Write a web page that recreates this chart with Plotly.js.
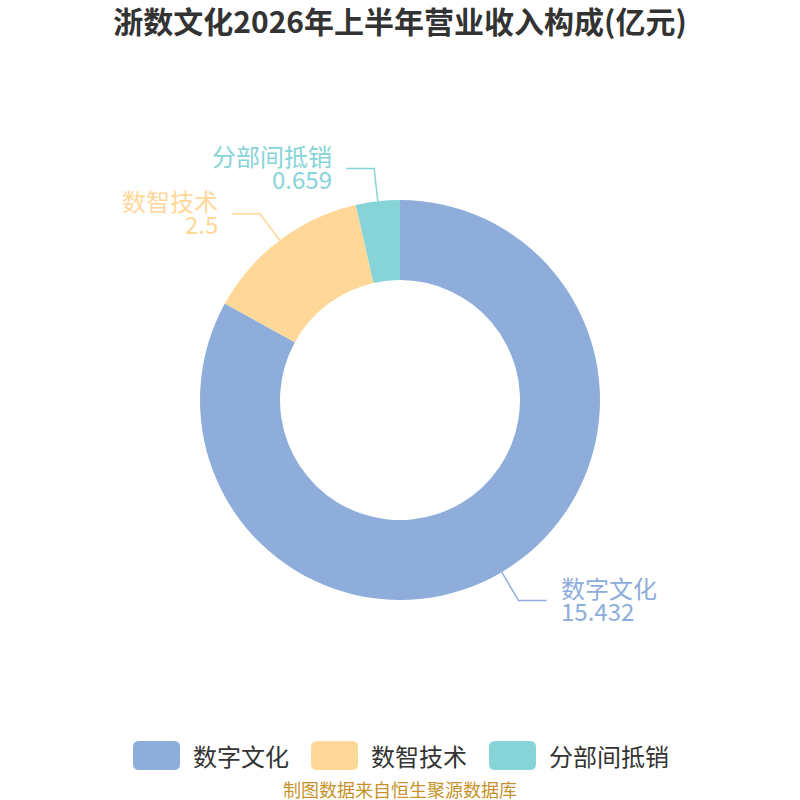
<html>
<head>
<meta charset="utf-8" />
<title>浙数文化2026年上半年营业收入构成</title>
<script src="https://cdn.plot.ly/plotly-3.0.1.min.js"></script>
</head>
<body style="margin:0">
<div id="myDiv" style="width:800px;height:800px"></div>
<script>
// 数据
var labels = ['数字文化', '数智技术', '分部间抵销'];
var values = [15.432, 2.5, 0.659];
var colors = ['#8eaddb', '#ffd899', '#86d4d8'];

var titleText = '浙数文化2026年上半年营业收入构成(亿元)';
var sourceText = '制图数据来自恒生聚源数据库';
var FONT = '"Noto Sans CJK SC", "Noto Sans", sans-serif';

// plot area 400x400 centred at (400,400): paper coords <-> pixels
var M = 200, R = 200;
function px2x(p) { return (p - M) / 400; }
function py2y(p) { return (800 - M - p) / 400; }

var trace = {
  type: 'pie',
  labels: labels,
  values: values,
  hole: 0.6,
  sort: false,
  direction: 'clockwise',
  rotation: 0,
  textinfo: 'none',
  hoverinfo: 'label+value',
  marker: { colors: colors, line: { width: 0 } },
  showlegend: false
};

var shapes = [];
var annotations = [];

// label lines, from slice middle angles
var labFont = 24;
var total = values.reduce(function (a, b) { return a + b; }, 0);
var cum = 0;
for (var i = 0; i < values.length; i++) {
  var mid = (cum + values[i] / 2) / total * 2 * Math.PI;
  cum += values[i];
  var sx = Math.sin(mid), sy = -Math.cos(mid);
  var x0 = 400 + R * sx, y0 = 400 + R * sy;
  var x1 = 400 + (R + 33) * sx, y1 = 400 + (R + 33) * sy;
  var dir = sx >= 0 ? 1 : -1;
  var x2 = x1 + dir * 28;
  shapes.push({
    type: 'path', xref: 'paper', yref: 'paper',
    path: 'M' + px2x(x0) + ',' + py2y(y0) + ' L' + px2x(x1) + ',' + py2y(y1) + ' L' + px2x(x2) + ',' + py2y(y1),
    line: { color: colors[i], width: 1.5 }
  });
  var tx = px2x(x2 + dir * 12);
  var anc = dir > 0 ? 'left' : 'right';
  annotations.push({
    xref: 'paper', yref: 'paper', x: tx, y: py2y(y1 - 13),
    xanchor: anc, yanchor: 'middle', text: labels[i], showarrow: false,
    font: { family: FONT, size: labFont, color: colors[i] }
  });
  annotations.push({
    xref: 'paper', yref: 'paper', x: tx, y: py2y(y1 + 10),
    xanchor: anc, yanchor: 'middle', text: String(values[i]), showarrow: false,
    font: { family: FONT, size: labFont, color: colors[i] }
  });
}

// legend drawn by hand: rounded swatches + text
var legFont = 24, swW = 47, swH = 29, gap = 11, itemGap = 24;
var widths = labels.map(function (l) { return l.length * legFont; });
var legTotal = 0;
for (var i = 0; i < labels.length; i++) legTotal += swW + gap + widths[i] + (i ? itemGap : 0);
var lx = 400 - legTotal / 2, ly = 755.5;
for (var i = 0; i < labels.length; i++) {
  var r = 6, a = lx, b = ly - swH / 2, w = swW, h = swH;
  var p = 'M' + (a + r) + ',' + b + ' L' + (a + w - r) + ',' + b + ' Q' + (a + w) + ',' + b + ' ' + (a + w) + ',' + (b + r) +
    ' L' + (a + w) + ',' + (b + h - r) + ' Q' + (a + w) + ',' + (b + h) + ' ' + (a + w - r) + ',' + (b + h) +
    ' L' + (a + r) + ',' + (b + h) + ' Q' + a + ',' + (b + h) + ' ' + a + ',' + (b + h - r) +
    ' L' + a + ',' + (b + r) + ' Q' + a + ',' + b + ' ' + (a + r) + ',' + b + ' Z';
  // convert pixel path to paper coords
  p = p.replace(/(-?[\d.]+),(-?[\d.]+)/g, function (m, X, Y) { return px2x(+X) + ',' + py2y(+Y); });
  shapes.push({ type: 'path', xref: 'paper', yref: 'paper', path: p, fillcolor: colors[i], line: { width: 0 } });
  annotations.push({
    xref: 'paper', yref: 'paper', x: px2x(lx + swW + gap), y: py2y(ly),
    xanchor: 'left', yanchor: 'middle', showarrow: false, text: labels[i],
    font: { family: FONT, size: legFont, color: '#333333' }
  });
  lx += swW + gap + widths[i] + itemGap;
}

annotations.push({
  xref: 'paper', yref: 'paper', x: 0.5, y: py2y(789),
  xanchor: 'center', yanchor: 'middle', showarrow: false, text: sourceText,
  font: { family: FONT, size: 18, color: '#c8922a' }
});

var layout = {
  width: 800, height: 800,
  margin: { l: M, r: M, t: M, b: M },
  paper_bgcolor: '#ffffff',
  title: {
    text: '<b>' + titleText + '</b>',
    x: 0.5, xref: 'paper', y: 0.972, yref: 'container', yanchor: 'middle',
    font: { family: FONT, size: 30, color: '#333333' }
  },
  shapes: shapes,
  annotations: annotations,
  showlegend: false
};

Plotly.newPlot('myDiv', [trace], layout, { displayModeBar: false });
</script>
</body>
</html>
